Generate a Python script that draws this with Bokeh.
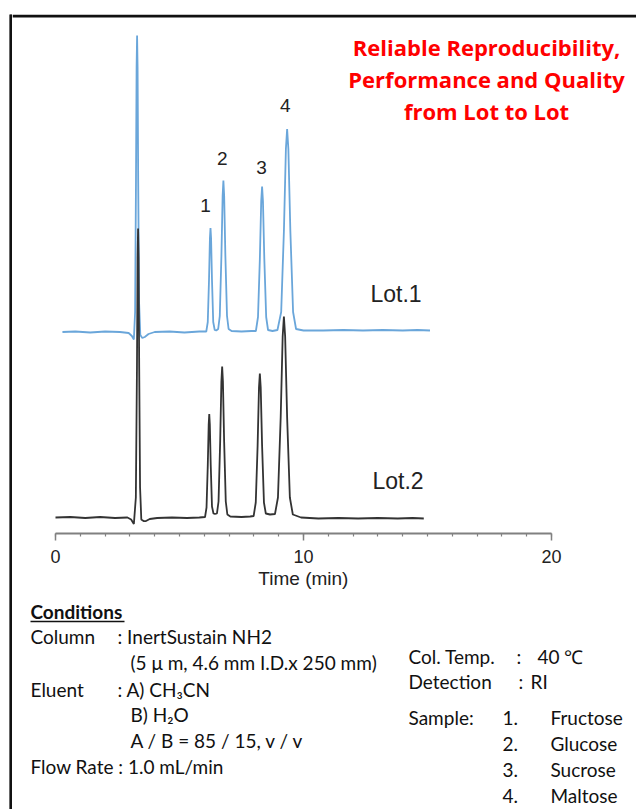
from bokeh.plotting import figure
from bokeh.models import Label, SingleIntervalTicker, Spacer
from bokeh.layouts import row, column
from bokeh.embed import file_html
from bokeh.resources import INLINE

# ---------------- data ----------------
lot1_time = [0.28, 0.8, 1.4, 2.0, 2.6, 2.95, 3.08, 3.16, 3.21, 3.245, 3.27, 3.29, 3.31, 3.335, 3.37, 3.42, 3.5, 3.6, 3.75, 4.0,
             4.6, 5.2, 5.8, 6.08, 6.14, 6.19, 6.227, 6.25, 6.273, 6.31, 6.36, 6.42, 6.48,
             6.56, 6.624, 6.69, 6.739, 6.77, 6.801, 6.85, 6.916, 6.98, 7.1, 7.5, 7.9, 8.08,
             8.165, 8.24, 8.295, 8.33, 8.365, 8.42, 8.495, 8.57, 8.75, 8.95,
             9.1, 9.21, 9.29, 9.34, 9.39, 9.47, 9.58, 9.7, 10.0, 10.8, 11.6, 12.4, 13.2, 14.0, 14.6, 15.1]
lot1_signal = [0, 0.5, -0.5, 0.5, 0, -1, -4, -7.5, 20, 150, 265, 296.5, 265, 150, 30, -3, -6, -5, -2, 0,
               0.5, -0.5, 0.5, 0.5, 10, 52, 94, 104, 94, 52, 10, 2, 1.5,
               3, 16, 76, 136, 151.5, 136, 76, 16, 3, 1, 0.5, 1, 1,
               15, 73, 131, 145.5, 131, 73, 15, 2, 1, 2,
               20, 101, 183, 203, 183, 101, 20, 3, 1.5, 1.5, 2, 1.5, 2, 1.5, 2, 1.5]

lot2_time = [0.0, 0.6, 1.2, 1.8, 2.4, 2.9, 3.05, 3.16, 3.24, 3.285, 3.31, 3.33, 3.35, 3.375, 3.41, 3.46, 3.55, 3.63, 3.8, 4.1,
             4.7, 5.3, 5.8, 6.03, 6.09, 6.14, 6.177, 6.20, 6.223, 6.26, 6.31, 6.37, 6.43,
             6.51, 6.574, 6.64, 6.689, 6.72, 6.751, 6.80, 6.866, 6.93, 7.05, 7.5, 7.85, 7.99,
             8.075, 8.15, 8.205, 8.24, 8.275, 8.33, 8.405, 8.48, 8.65, 8.85,
             8.97, 9.08, 9.16, 9.21, 9.26, 9.34, 9.45, 9.57, 9.9, 10.6, 11.4, 12.2, 13.0, 13.8, 14.4, 14.85]
lot2_signal = [0, 0.5, -0.5, 0.5, -0.5, 0, -2, -6.5, 20, 150, 260, 289, 260, 150, 30, -2, -3.5, -3.7, -1.5, -0.5,
               0, -0.5, 0, 0.5, 10, 52, 93, 103.5, 93, 52, 11, 4, 3.5,
               4, 16, 76, 136, 151, 136, 76, 16, 3, 1, 0.5, 1, 1.5,
               15, 72, 130, 144, 130, 72, 15, 4, 3, 3.5,
               20, 100, 181, 201, 181, 100, 20, 3, 0, -1, -0.5, -1, -0.5, -1, -0.5, -1]

lot_offsets = [185.5, 0.0]          # vertical stacking of the two traces
lot_names = ["Lot.1", "Lot.2"]
lot_label_pos = [(12.70, 224), (12.78, 37)]

peak_labels = ["1", "2", "3", "4"]
peak_label_time = [6.05, 6.73, 8.31, 9.27]
peak_label_y = [312, 359, 350, 412]

x_ticks_major = 10
x_axis_bounds = (0, 20)
x_axis_title = "Time (min)"
headline = ["Reliable Reproducibility,", "Performance and Quality", "from Lot to Lot"]

cond_left = [("Column", ": InertSustain NH2"),
             ("", "(5 \u03bc m, 4.6 mm I.D.x 250 mm)"),
             ("Eluent", ": A) CH\u2083CN"),
             ("", "B) H\u2082O"),
             ("", "A / B = 85 / 15, v / v"),
             ("Flow Rate : 1.0 mL/min", "")]
cond_right = [("Col. Temp.", ":", "40 \u2103"), ("Detection", ":", "RI")]
sample_no = ["1.", "2.", "3.", "4."]
sample_names = ["Fructose", "Glucose", "Sucrose", "Maltose"]

BLUE = "#6AA6DA"
DARK = "#333333"
BORDER = "#111111"
COND_FONT = "Lato"

# ---------------- chart figure ----------------
W = 624
PX_PER_MIN = 24.8
x_start = -43 / PX_PER_MIN
x_end = x_start + W / PX_PER_MIN

p = figure(width=W, height=585, x_range=(x_start, x_end), y_range=(-16, 503),
           output_backend="svg", toolbar_location=None, y_axis_location=None,
           min_border_left=0, min_border_right=0, min_border_top=0, min_border_bottom=66)
p.outline_line_color = None
p.xgrid.grid_line_color = None
p.ygrid.grid_line_color = None
p.background_fill_color = "white"
p.border_fill_color = "white"

ax = p.xaxis[0]
ax.ticker = SingleIntervalTicker(interval=x_ticks_major, num_minor_ticks=10)
ax.bounds = x_axis_bounds
ax.axis_line_color = "#808080"
ax.axis_line_width = 1.8
ax.major_tick_line_color = "#808080"
ax.major_tick_line_width = 1.5
ax.minor_tick_line_color = "#808080"
ax.minor_tick_line_width = 1.2
ax.major_tick_in = 0
ax.major_tick_out = 7
ax.minor_tick_in = 0
ax.minor_tick_out = 3
ax.major_label_text_font = "Liberation Sans"
ax.major_label_text_font_size = "18px"
ax.major_label_text_color = "#222222"
ax.major_label_standoff = 9
# the label is centred on the frame; trailing no-break spaces move it over the 0-20 span
ax.axis_label = x_axis_title + "\u00a0" * 8
ax.axis_label_text_font = "Liberation Sans"
ax.axis_label_text_font_size = "19px"
ax.axis_label_text_font_style = "normal"
ax.axis_label_text_color = "#222222"
ax.axis_label_standoff = 2

# top edge of the frame box
p.segment(x0=[x_start], y0=[501.5], x1=[x_end], y1=[501.5], line_color=BORDER, line_width=3)

# traces (Lot.1 first, Lot.2 drawn over it)
p.line(lot1_time, [s + lot_offsets[0] for s in lot1_signal], line_color=BLUE, line_width=1.8)
p.line(lot2_time, [s + lot_offsets[1] for s in lot2_signal], line_color=DARK, line_width=1.8)

for name, (lx, ly) in zip(lot_names, lot_label_pos):
    p.add_layout(Label(x=lx, y=ly, text=name, text_font="Liberation Sans", text_font_size="23px",
                       text_color="#222222", text_baseline="middle", text_align="left"))

for lab, lx, ly in zip(peak_labels, peak_label_time, peak_label_y):
    p.add_layout(Label(x=lx, y=ly, text=lab, text_font="Liberation Sans", text_font_size="19px",
                       text_color="#222222", text_baseline="middle", text_align="center"))

for i, line in enumerate(headline):
    p.add_layout(Label(x=17.38, y=471 - 32.3 * i, text=line, text_font="Open Sans",
                       text_font_style="bold", text_font_size="22px", text_color="#FF0000",
                       text_baseline="middle", text_align="center"))

# ---------------- conditions figure ----------------
H2 = 210
q = figure(width=W, height=H2, x_range=(0, W), y_range=(0, H2),
           output_backend="svg", toolbar_location=None,
           x_axis_location=None, y_axis_location=None,
           min_border_left=0, min_border_right=0, min_border_top=0, min_border_bottom=0)
q.outline_line_color = None
q.xgrid.grid_line_color = None
q.ygrid.grid_line_color = None


def txt(fig, x, y, s, bold=False, size="19px", font=COND_FONT):
    fig.add_layout(Label(x=x, y=y, text=s, text_font=font, text_font_size=size,
                         text_font_style="bold" if bold else "normal",
                         text_color="#111111", text_baseline="middle", text_align="left"))


txt(q, 18, 198, "Conditions", bold=True)
q.line([18, 112], [188, 188], line_color="#111111", line_width=1.5)

row_y = [173, 147, 120, 95, 69, 43]
for (a, b), yy in zip(cond_left, row_y):
    if a:
        txt(q, 18, yy, a)
    if b:
        txt(q, 105 if b.startswith(":") else 118, yy, b)

for (a, c, v), yy, cx, vx in zip(cond_right, [153, 128], [504, 506], [525, 518]):
    txt(q, 396, yy, a)
    txt(q, cx, yy, c)
    txt(q, vx, yy, v)

txt(q, 396, 92, "Sample:")
for i, (n, s) in enumerate(zip(sample_no, sample_names)):
    yy = 92 - 26 * i
    txt(q, 490, yy, n)
    txt(q, 538, yy, s)

# ---------------- left edge of the frame box ----------------
left_bar = figure(width=3, height=795, x_range=(0, 1), y_range=(0, 1), output_backend="svg",
                  toolbar_location=None, x_axis_location=None, y_axis_location=None,
                  min_border_left=0, min_border_right=0, min_border_top=0, min_border_bottom=0)
left_bar.quad(left=[0], right=[1], bottom=[0], top=[1], fill_color=BORDER, line_color=None)
left_bar.background_fill_color = BORDER
left_bar.border_fill_color = BORDER
left_bar.outline_line_color = None
left_bar.xgrid.grid_line_color = None
left_bar.ygrid.grid_line_color = None

layout = row(Spacer(width=9, height=809),
             column(Spacer(width=3, height=14), left_bar),
             column(Spacer(width=W, height=14), p, q))

open("out.html", "w").write(file_html(layout, INLINE))
